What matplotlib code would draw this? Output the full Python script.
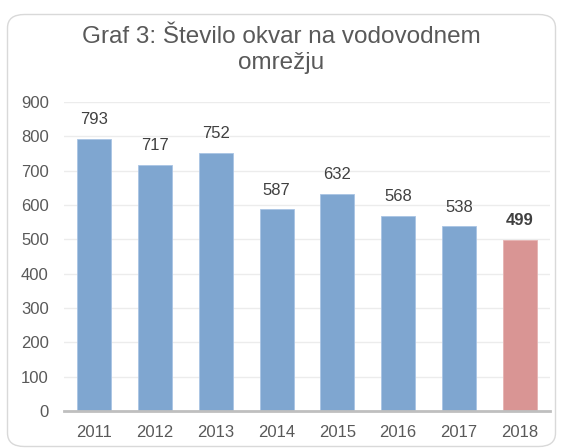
import matplotlib
matplotlib.use("Agg")
import matplotlib.pyplot as plt
from matplotlib.patches import FancyBboxPatch

years = ["2011", "2012", "2013", "2014", "2015", "2016", "2017", "2018"]
values = [793, 717, 752, 587, 632, 568, 538, 499]
highlight = [False, False, False, False, False, False, False, True]
yticks = [0, 100, 200, 300, 400, 500, 600, 700, 800, 900]
title = "Graf 3: Število okvar na vodovodnem\nomrežju"

plt.rcParams['font.family'] = ['Liberation Sans', 'DejaVu Sans']
txt = "#595959"
blue = "#7fa6d0"
red = "#d99594"

fig = plt.figure(figsize=(5.62, 4.48), dpi=100)
fig.patch.set_facecolor("white")
border = FancyBboxPatch((7.5/562, 1.5/448), 548/562, 432/448,
                        boxstyle="round,pad=0,rounding_size=0.03",
                        transform=fig.transFigure, facecolor="none",
                        edgecolor="#d9d9d9", linewidth=1.0, zorder=5)
fig.patches.append(border)

ax = fig.add_axes([64/562, 1 - 411/448, 486/562, (411-102)/448])
ax.set_facecolor("none")
x = list(range(len(years)))
colors = [red if h else blue for h in highlight]
edges = ["#e6b3b2" if h else "#a9c4e4" for h in highlight]
ax.bar(x, values, width=0.56, color=colors, edgecolor=edges,
       linewidth=0.6, zorder=3)
for xi, v, h in zip(x, values, highlight):
    ax.text(xi, v + 34, str(v), ha="center", va="bottom", fontsize=12,
            color="#404040",
            fontweight="bold" if h else "normal")

ax.set_xlim(-0.5, len(years) - 0.5)
ax.set_ylim(0, 900)
ax.set_yticks(yticks)
ax.set_xticks(x)
ax.set_xticklabels(years)
ax.tick_params(axis="both", length=0, labelsize=12, colors=txt)
ax.tick_params(axis="x", pad=10)
ax.tick_params(axis="y", pad=11)
ax.grid(axis="y", color="#ececec", linewidth=1.0, zorder=0)
for s in ["top", "right", "left"]:
    ax.spines[s].set_visible(False)
ax.spines["bottom"].set_color("#bfbfbf")
ax.spines["bottom"].set_linewidth(2)
ax.spines["bottom"].set_zorder(4)

fig.text(0.5, 1 - 50/448, title, ha="center", va="center",
         fontsize=17.5, color=txt, linespacing=1.2)

fig.savefig("out.png", dpi=100)
